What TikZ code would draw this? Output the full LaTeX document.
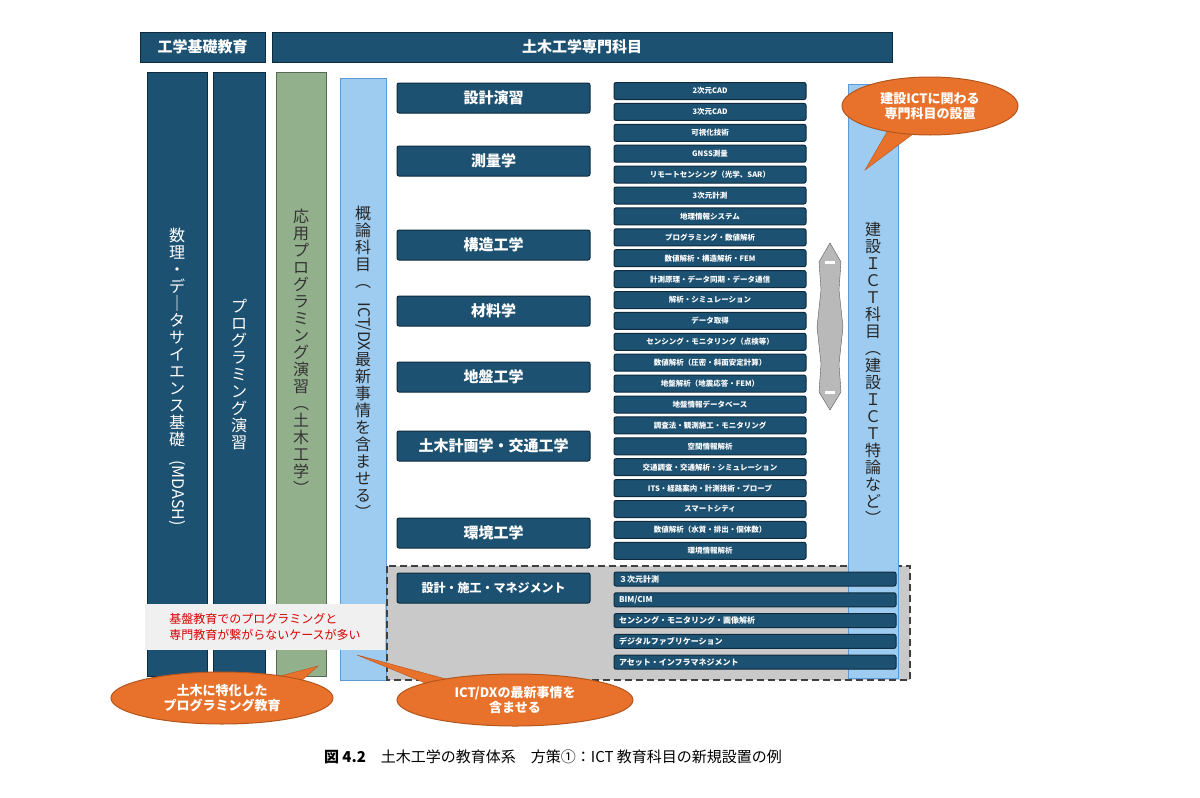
\documentclass[tikz,border=0pt]{standalone}
\usepackage{fontspec}
\usepackage{graphicx}
\newfontfamily\cjk{Noto Sans CJK JP}
\usetikzlibrary{shapes.geometric}
\definecolor{navy}{HTML}{1D5172}
\definecolor{navyline}{HTML}{0E2B3E}
\definecolor{sage}{HTML}{93B08C}
\definecolor{sky}{HTML}{9ECBF0}
\definecolor{skyline}{HTML}{5A9AD6}
\definecolor{flame}{HTML}{E8722C}
\definecolor{flameline}{HTML}{B4561C}
\definecolor{shade}{HTML}{C9C9C9}
\newcommand{\rot}[1]{\rotatebox{-90}{#1}}
\tikzset{
  darkbar/.style={draw=navyline,fill=navy,line width=1pt,text=white,inner sep=0pt},
  subj/.style={draw=navyline,fill=navy,line width=1pt,rounded corners=2pt,text=white,minimum width=193pt,minimum height=30pt,font=\cjk\bfseries\fontsize{15}{15}\selectfont},
  tool/.style={draw=navyline,fill=navy,line width=1pt,rounded corners=2pt,text=white,minimum width=192pt,minimum height=17pt,inner sep=0pt,font=\cjk\bfseries\fontsize{7.5}{8}\selectfont},
  wide/.style={draw=navyline,fill=navy,line width=1pt,rounded corners=2pt,text=white,minimum width=282pt,minimum height=14pt,inner sep=0pt,font=\cjk\bfseries\fontsize{8}{8}\selectfont},
  vtext/.style={align=center,font=\cjk\fontsize{16}{17}\selectfont},
  bubble/.style={ellipse,draw=flameline,fill=flame,text=white,line width=1pt,inner sep=0pt,align=center,font=\cjk\bfseries\fontsize{13}{15}\selectfont}
}
\begin{document}
\begin{tikzpicture}[x=1pt,y=-1pt]
\useasboundingbox[fill=white] (0,0) rectangle (1200,798);
% headings
\node[darkbar,minimum width=125pt,minimum height=30pt,font=\cjk\bfseries\fontsize{15}{15}\selectfont] (basic) at (202.5,47) {工学基礎教育};
\node[darkbar,minimum width=620pt,minimum height=30pt,font=\cjk\bfseries\fontsize{15}{15}\selectfont] (major) at (582,47) {土木工学専門科目};
% columns
\node[darkbar,minimum width=60pt,minimum height=604pt] (mdash) at (177,374) {};
\node[vtext,text=white] at (177,377) {数\\理\\・\\デ\\｜\\タ\\サ\\イ\\エ\\ン\\ス\\基\\礎\\[-2pt]\rot{(MDASH)}};
\node[darkbar,minimum width=52pt,minimum height=604pt] (prog) at (239,374) {};
\node[vtext,text=white] at (239,375) {プ\\ロ\\グ\\ラ\\ミ\\ン\\グ\\演\\習};
\node[draw=sage!60!black,fill=sage,line width=1pt,minimum width=50pt,minimum height=604pt] (apply) at (301,374) {};
\node[vtext,text=black!80] at (301,352) {応\\用\\プ\\ロ\\グ\\ラ\\ミ\\ン\\グ\\演\\習\\︵\\土\\木\\工\\学\\︶};
\node[draw=skyline,fill=sky,line width=1pt,minimum width=46pt,minimum height=602pt] (intro) at (363,379) {};
\node[vtext,text=black!85] at (363,362) {概\\論\\科\\目\\︵\\[-2pt]\rot{ICT/DX}\\最\\新\\事\\情\\を\\含\\ま\\せ\\る\\︶};
% grey area
\draw[fill=shade,draw=black!75,line width=1.5pt,dash pattern=on 7pt off 4pt] (387,566) rectangle (910,680);
\node[draw=skyline,fill=sky,line width=1pt,minimum width=50pt,minimum height=594pt] (ict) at (873,381) {};
\node[vtext,text=black!85] at (873,373) {建\\設\\Ｉ\\Ｃ\\Ｔ\\科\\目\\︵\\建\\設\\Ｉ\\Ｃ\\Ｔ\\特\\論\\な\\ど\\︶};
% subjects
\foreach \name/\yy/\txt in {s1/98/設計演習,s2/161/測量学,s3/245/構造工学,s4/311/材料学,s5/377/地盤工学,s6/446/土木計画学・交通工学,s7/533/環境工学}
  \node[subj] (\name) at (493.5,\yy) {\txt};
\node[subj,font=\cjk\bfseries\fontsize{12}{12}\selectfont] (s8) at (493.5,588) {設計・施工・マネジメント};
% tool list
\foreach \txt [count=\k from 0] in {2次元CAD,3次元CAD,可視化技術,GNSS測量,リモートセンシング（光学、SAR）,3次元計測,地理情報システム,プログラミング・数値解析,数値解析・構造解析・FEM,計測原理・データ同期・データ通信,解析・シミュレーション,データ取得,センシング・モニタリング（点検等）,数値解析（圧密・斜面安定計算）,地盤解析（地震応答・FEM）,地盤情報データベース,調査法・観測施工・モニタリング,空間情報解析,交通調査・交通解析・シミュレーション,ITS・経路案内・計測技術・プローブ,スマートシティ,数値解析（水質・排出・個体数）,環境情報解析}
  \node[tool] (t\k) at (710,91+20.9*\k) {\txt};
\foreach \txt [count=\k from 0] in {３次元計測,BIM/CIM,センシング・モニタリング・画像解析,デジタルファブリケーション,アセット・インフラマネジメント}
  \node[wide,text width=272pt,align=left] (w\k) at (755,579+20.8*\k) {\txt};
% double arrow
\draw[fill=gray!55,draw=gray!70!black] (830,243) -- (841,262) -- (839,290) -- (843,327) -- (839,364) -- (841,392) -- (830,410) -- (819,392) -- (821,364) -- (817,327) -- (821,290) -- (819,262) -- cycle;
\draw[white,line width=3pt] (825,262) -- (835,262) (825,392) -- (835,392);
% note
\node[fill=black!6,minimum width=240pt,minimum height=46pt,align=left,text=red!85!black,font=\cjk\fontsize{12}{16}\selectfont] (note) at (265,627) {基盤教育でのプログラミングと\\専門教育が繋がらないケースが多い};
% callouts
\coordinate (tipa) at (865,170);
\coordinate (tipb) at (318,666);
\coordinate (tipc) at (357,655);
\fill[flame,draw=flameline] (895,118) -- (tipa) -- (925,125) -- cycle;
\node[bubble,minimum width=176pt,minimum height=58pt] (calla) at (930,106) {建設ICTに関わる\\専門科目の設置};
\fill[flame,draw=flameline] (265,680) -- (tipb) -- (280,700) -- cycle;
\node[bubble,minimum width=222pt,minimum height=52pt] (callb) at (222,698) {土木に特化した\\プログラミング教育};
\fill[flame,draw=flameline] (430,685) -- (tipc) -- (450,680) -- cycle;
\node[bubble,minimum width=236pt,minimum height=52pt] (callc) at (515,700) {ICT/DXの最新事情を\\含ませる};
% caption
\node[font=\cjk\fontsize{15}{15}\selectfont] (cap) at (553,757) {\textbf{図 4.2}\quad 土木工学の教育体系\quad 方策①：ICT 教育科目の新規設置の例};
\end{tikzpicture}
\end{document}
